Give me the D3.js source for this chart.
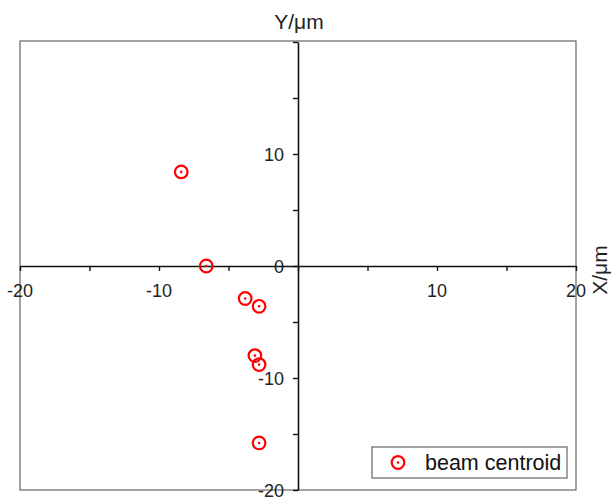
<!DOCTYPE html>
<html>
<head>
<meta charset="utf-8">
<script src="https://cdn.jsdelivr.net/npm/d3@7"></script>
<style>
  body { margin: 0; background: #fff; }
  text { font-family: "Liberation Sans", Arial, sans-serif; }
</style>
</head>
<body>
<div id="chart"></div>
<script>
// beam centroid positions (um)
const xValues = [-8.4, -6.6, -3.8, -2.8, -3.1, -2.8, -2.8];
const yValues = [8.4, 0, -2.9, -3.6, -8.0, -8.8, -15.8];
const xTickLabels = [-20, -10, 10, 20];
const yTickLabels = [10, 0, -10, -20];
const tickValues = [-20, -15, -10, -5, 0, 5, 10, 15, 20];
const seriesName = "beam centroid";

const width = 611;
const height = 498;
const plotLeft = 20, plotRight = 576, plotTop = 42, plotBottom = 490;

const svg = d3.select('#chart')
    .append('svg')
    .attr('width', width)
    .attr('height', height);

const x = d3.scaleLinear().domain([-20, 20]).range([plotLeft, plotRight]);
const y = d3.scaleLinear().domain([-20, 20]).range([plotBottom, plotTop]);

// frame
svg.append('rect')
    .attr('x', plotLeft)
    .attr('y', plotTop - 1)
    .attr('width', plotRight - plotLeft)
    .attr('height', plotBottom - plotTop + 1)
    .attr('fill', 'none')
    .attr('stroke', '#666')
    .attr('stroke-width', 1.2);

// x axis through y=0
const xAxis = svg.append('g')
    .attr('transform', `translate(0,${y(0)})`)
    .call(d3.axisBottom(x).tickValues(tickValues).tickSize(5).tickSizeOuter(0).tickFormat(''));
xAxis.select('.domain').attr('stroke', '#111').attr('stroke-width', 1.6);
xAxis.selectAll('.tick line').attr('stroke', '#111').attr('stroke-width', 1.4);

// y axis through x=0
const yAxis = svg.append('g')
    .attr('transform', `translate(${x(0)},0)`)
    .call(d3.axisLeft(y).tickValues(tickValues).tickSize(5).tickSizeOuter(0).tickFormat(''));
yAxis.select('.domain').attr('stroke', '#111').attr('stroke-width', 1.6);
yAxis.selectAll('.tick line').attr('stroke', '#111').attr('stroke-width', 1.4);

// tick labels
svg.append('g').selectAll('text')
    .data(xTickLabels)
    .join('text')
    .attr('x', d => x(d))
    .attr('y', y(0) + 31)
    .attr('text-anchor', 'middle')
    .style('font-size', '18px')
    .attr('fill', '#222')
    .text(d => d);

svg.append('g').selectAll('text')
    .data(yTickLabels)
    .join('text')
    .attr('x', x(0) - 14)
    .attr('y', d => y(d) + 6.5)
    .attr('text-anchor', 'end')
    .style('font-size', '18px')
    .attr('fill', '#222')
    .text(d => d);

// axis titles
svg.append('text')
    .attr('x', x(0) + 1)
    .attr('y', 29)
    .attr('text-anchor', 'middle')
    .style('font-size', '21px')
    .attr('fill', '#222')
    .text('Y/μm');

svg.append('text')
    .attr('transform', `translate(607,${y(0) + 4}) rotate(-90)`)
    .attr('text-anchor', 'middle')
    .style('font-size', '21px')
    .attr('fill', '#222')
    .text('X/μm');

// points
const pts = svg.append('g')
    .selectAll('g')
    .data(xValues.map((d, i) => [d, yValues[i]]))
    .join('g')
    .attr('transform', d => `translate(${x(d[0])},${y(d[1])})`);
pts.append('circle').attr('r', 6.3).attr('fill', 'none').attr('stroke', '#f00').attr('stroke-width', 2.2);
pts.append('circle').attr('r', 1.3).attr('fill', '#f00');

// legend
const lg = svg.append('g').attr('transform', 'translate(372,447)');
lg.append('rect')
    .attr('width', 195)
    .attr('height', 31)
    .attr('fill', '#fff')
    .attr('stroke', '#666')
    .attr('stroke-width', 1.2);
lg.append('circle').attr('cx', 26).attr('cy', 15.5).attr('r', 6.3).attr('fill', 'none').attr('stroke', '#f00').attr('stroke-width', 2.2);
lg.append('circle').attr('cx', 26).attr('cy', 15.5).attr('r', 1.3).attr('fill', '#f00');
lg.append('text')
    .attr('x', 53)
    .attr('y', 23)
    .style('font-size', '21.5px')
    .attr('fill', '#111')
    .text(seriesName);
</script>
</body>
</html>
